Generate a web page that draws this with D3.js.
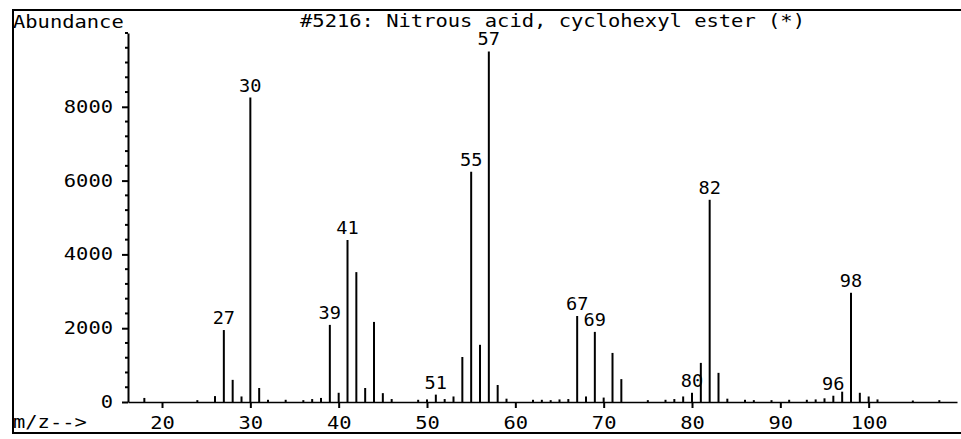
<!DOCTYPE html>
<html lang="en">
<head>
  <meta charset="UTF-8">
  <title>Mass Spectrum</title>
  <script src="https://d3js.org/d3.v7.min.js"></script>
  <style>
    body { margin: 0; background: #fff; }
    svg { display: block; }
    text { font-family: "DejaVu Sans Mono", "Liberation Mono", monospace; font-size: 17px; fill: #000; }
    .peak { stroke: #000; stroke-width: 2; }
    .axis path, .axis line { stroke: #000; }
  </style>
</head>
<body>
  <div id="chart"></div>

  <script>
    // m/z values and abundances
    const mz = [18, 24, 26, 27, 28, 29, 30, 31, 32, 34, 36, 37, 38, 39, 40, 41, 42, 43, 44, 45, 46,
      49, 50, 51, 52, 53, 54, 55, 56, 57, 58, 59, 62, 63, 64, 65, 66, 67, 68, 69, 70, 71, 72,
      75, 77, 78, 79, 80, 81, 82, 83, 84, 86, 87, 89, 91, 93, 94, 95, 96, 97, 98, 99, 100, 101, 105, 108];
    const abundance = [110, 50, 160, 1950, 600, 150, 8250, 380, 60, 60, 50, 80, 110, 2090, 250, 4390, 3520, 380, 2170, 240, 80,
      60, 70, 200, 80, 150, 1220, 6240, 1550, 9500, 460, 90, 60, 60, 50, 70, 80, 2330, 150, 1900, 120, 1330, 620,
      50, 60, 80, 150, 250, 1060, 5480, 790, 90, 60, 50, 50, 60, 60, 70, 100, 170, 280, 2960, 250, 150, 70, 40, 50];
    const labeledMz = [27, 30, 39, 41, 51, 55, 57, 67, 69, 80, 82, 96, 98];
    const yTicks = [0, 2000, 4000, 6000, 8000];
    const yMinorStep = 400;
    const xTicks = [20, 30, 40, 50, 60, 70, 80, 90, 100];
    const title = "#5216: Nitrous acid, cyclohexyl ester (*)";

    const width = 961;
    const height = 439;
    const charW = 12.3;   // the original font is wide

    const x = d3.scaleLinear().domain([16.15, 110]).range([128, 957]);
    const y = d3.scaleLinear().domain([0, 10000]).range([402, 33]);

    const svg = d3.select("#chart").append("svg")
      .attr("width", width)
      .attr("height", height);

    // outer frame
    svg.append("rect")
      .attr("x", 13).attr("y", 10)
      .attr("width", 980).attr("height", 423)
      .attr("fill", "none").attr("stroke", "#000").attr("stroke-width", 2);

    function wideText(sel, str) {
      sel.text(str)
        .attr("textLength", str.length * charW)
        .attr("lengthAdjust", "spacingAndGlyphs");
    }

    svg.append("text").attr("x", 300).attr("y", 27).call(wideText, title)
      .attr("textLength", 505);
    svg.append("text").attr("x", 13).attr("y", 28).call(wideText, "Abundance");
    svg.append("text").attr("x", 13).attr("y", 428).call(wideText, "m/z-->");

    // y axis
    const yAxis = svg.append("g")
      .attr("class", "axis")
      .attr("transform", `translate(${x.range()[0]},0)`)
      .call(d3.axisLeft(y).tickValues(yTicks).tickSize(6).tickSizeOuter(0).tickPadding(9).tickFormat(d3.format("d")));
    yAxis.select(".domain").attr("stroke-width", 2);
    yAxis.selectAll("line").attr("stroke-width", 2);
    yAxis.selectAll("text")
      .attr("font-size", null)
      .attr("font-family", null)
      .each(function (d) { d3.select(this).call(wideText, String(d)); });

    // minor y ticks
    const minor = d3.range(0, 10000 + 1, yMinorStep).filter(v => !yTicks.includes(v));
    svg.append("g")
      .selectAll("line")
      .data(minor)
      .join("line")
      .attr("x1", x.range()[0] - 3)
      .attr("x2", x.range()[0])
      .attr("y1", d => y(d))
      .attr("y2", d => y(d))
      .attr("stroke", "#000")
      .attr("stroke-width", 2);

    // x axis
    const xAxis = svg.append("g")
      .attr("class", "axis")
      .attr("transform", `translate(0,${y(0)})`)
      .call(d3.axisBottom(x).tickValues(xTicks).tickSize(6).tickSizeOuter(0).tickPadding(9));
    xAxis.select(".domain").attr("stroke-width", 1.5);
    xAxis.selectAll("line").attr("stroke-width", 2);
    xAxis.selectAll("text")
      .attr("font-size", null)
      .attr("font-family", null)
      .each(function (d) { d3.select(this).call(wideText, String(d)); });

    const peaks = mz.map((m, i) => ({ m, v: abundance[i] }));

    svg.append("g")
      .selectAll("line")
      .data(peaks)
      .join("line")
      .attr("class", "peak")
      .attr("x1", d => x(d.m))
      .attr("x2", d => x(d.m))
      .attr("y1", y(0))
      .attr("y2", d => y(d.v));

    svg.append("g")
      .selectAll("text")
      .data(peaks.filter(d => labeledMz.includes(d.m)))
      .join("text")
      .attr("x", d => x(d.m))
      .attr("y", d => y(d.v) - 6)
      .attr("text-anchor", "middle")
      .each(function (d) {
        d3.select(this).text(d.m)
          .attr("textLength", String(d.m).length * 11.2)
          .attr("lengthAdjust", "spacingAndGlyphs");
      });
  </script>
</body>
</html>
